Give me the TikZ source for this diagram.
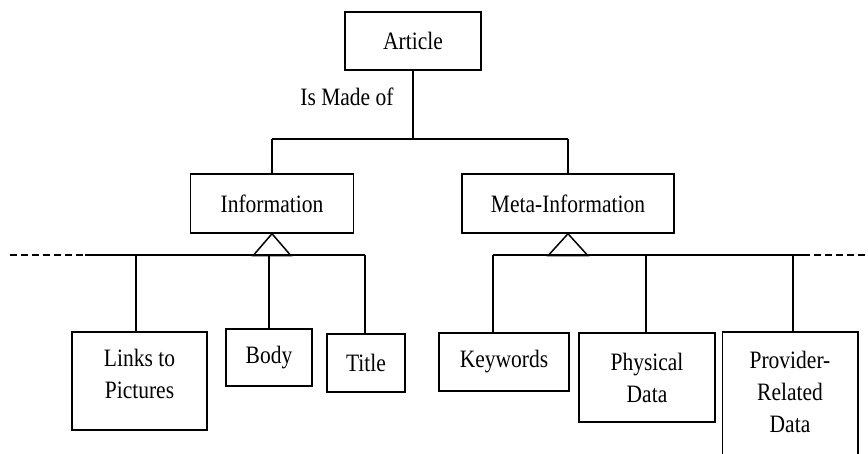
\documentclass[tikz,border=0pt]{standalone}
\usepackage{fontspec}
\setmainfont{Liberation Serif}[FakeStretch=0.86]
\begin{document}
\begin{tikzpicture}[x=1pt,y=-1pt,line width=1.5pt,
  every node/.style={font=\fontsize{25}{32}\selectfont},
  box/.style={draw,rectangle,align=center,inner sep=0pt},
  stub/.style={dash pattern=on 7pt off 4pt}]
\useasboundingbox (0,0) rectangle (868,454);

% top level
\node[box,minimum width=136,minimum height=58] (art) at (413,41) {Article};
\node (made) at (347,97) {Is Made of};

% second level
\node[box,minimum width=163,minimum height=59] (info) at (272,203.5) {Information};
\node[box,minimum width=212,minimum height=59] (meta) at (568,203.5) {Meta-Information};

% leaves under Information
\node[box,minimum width=135,minimum height=98] (links) at (139.5,381) {Links to\\Pictures\\[-18pt]};
\node[box,minimum width=86,minimum height=57] (body) at (269,357.5) {Body};
\node[box,minimum width=78,minimum height=58] (title) at (366,363) {Title};

% leaves under Meta-Information
\node[box,minimum width=130,minimum height=58] (keys) at (504,362) {Keywords};
\node[box,minimum width=136,minimum height=89] (phys) at (647,377.5) {Physical\\Data};
\node[align=center,minimum width=134,minimum height=118,inner sep=0pt] (prov) at (790,392) {Provider-\\Related\\Data};
\draw (prov.south west) ++(0,30) -- (prov.north west) -- (prov.north east) -- ++(0,150);

% composition links
\coordinate (jl) at (272,139);
\coordinate (jr) at (568,139);
\draw (art.south) -- (art.south |- jl);
\draw (jl) -- (jr);
\draw (jl) -- (info.north);
\draw (jr) -- (meta.north);

% inheritance triangles
\draw (info.south) -- ++(-19,22) -- ++(38,0) -- cycle;
\draw (meta.south) -- ++(-20,22) -- ++(40,0) -- cycle;

% left bus
\coordinate (bl0) at (85,255);
\coordinate (bl1) at (365,255);
\draw[stub] (10,255) -- (bl0);
\draw (bl0) -- (bl1);
\draw ([xshift=-3.5pt]links.north) -- ([xshift=-3.5pt]links.north |- bl0);
\draw (body.north) -- (body.north |- bl0);
\draw ([xshift=-1pt]title.north) -- ([xshift=-1pt]title.north |- bl0);

% right bus
\coordinate (br0) at (493,255);
\coordinate (br1) at (803,255);
\draw (br0) -- (br1);
\draw[stub] (br1) -- (868,255);
\draw ([xshift=-11pt]keys.north) -- ([xshift=-11pt]keys.north |- br0);
\draw ([xshift=-1pt]phys.north) -- ([xshift=-1pt]phys.north |- br0);
\draw ([xshift=3pt]prov.north) -- ([xshift=3pt]prov.north |- br0);
\end{tikzpicture}
\end{document}
